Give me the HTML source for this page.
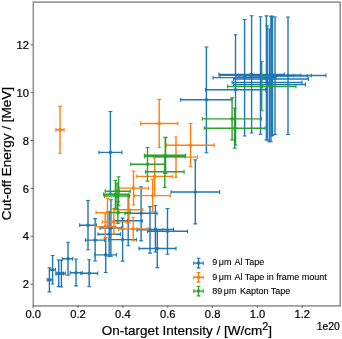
<!DOCTYPE html>
<html><head><meta charset="utf-8"><style>
html,body{margin:0;padding:0;background:#fff;}
svg{display:block;}
text{font-family:"Liberation Sans",sans-serif;fill:#000;stroke:#000;stroke-width:0.2px;}
svg{will-change:transform;}
.tk{font-size:11.2px;}
.lb{font-size:13.5px;}
.lg{font-size:9px;stroke-width:0.1px;}
</style></head><body>
<svg width="342" height="339" viewBox="0 0 342 339">
<rect width="342" height="339" fill="#fff"/>
<path d="M47.2 279.9H52.2M49.4 267.8V291.9" stroke="#1f77b4" stroke-width="1.4" fill="none"/><path d="M47.2 278V281.8M52.2 278V281.8M47.5 267.8H51.3M47.5 291.9H51.3" stroke="#1f77b4" stroke-width="1.1" fill="none"/><circle cx="49.4" cy="279.9" r="1.8" fill="#1f77b4"/><path d="M49.8 269.7H55.5M52.6 255.5V284" stroke="#1f77b4" stroke-width="1.4" fill="none"/><path d="M49.8 267.8V271.6M55.5 267.8V271.6M50.7 255.5H54.5M50.7 284H54.5" stroke="#1f77b4" stroke-width="1.1" fill="none"/><circle cx="52.6" cy="269.7" r="1.8" fill="#1f77b4"/><path d="M55.8 273.5H63.5M58.7 260V286.6" stroke="#1f77b4" stroke-width="1.4" fill="none"/><path d="M55.8 271.6V275.4M63.5 271.6V275.4M56.8 260H60.6M56.8 286.6H60.6" stroke="#1f77b4" stroke-width="1.1" fill="none"/><circle cx="58.7" cy="273.5" r="1.8" fill="#1f77b4"/><path d="M57 273.5H65.3M61.4 260V287" stroke="#1f77b4" stroke-width="1.4" fill="none"/><path d="M57 271.6V275.4M65.3 271.6V275.4M59.5 260H63.3M59.5 287H63.3" stroke="#1f77b4" stroke-width="1.1" fill="none"/><circle cx="61.4" cy="273.5" r="1.8" fill="#1f77b4"/><path d="M62.3 258.8H72.7M68 242.2V275.3" stroke="#1f77b4" stroke-width="1.4" fill="none"/><path d="M62.3 256.9V260.7M72.7 256.9V260.7M66.1 242.2H69.9M66.1 275.3H69.9" stroke="#1f77b4" stroke-width="1.1" fill="none"/><circle cx="68" cy="258.8" r="1.8" fill="#1f77b4"/><path d="M70.2 272.8H82.3M76 259V285.9" stroke="#1f77b4" stroke-width="1.4" fill="none"/><path d="M70.2 270.9V274.7M82.3 270.9V274.7M74.1 259H77.9M74.1 285.9H77.9" stroke="#1f77b4" stroke-width="1.1" fill="none"/><circle cx="76" cy="272.8" r="1.8" fill="#1f77b4"/><path d="M80.8 273.3H97.7M89.2 259.7V286.8" stroke="#1f77b4" stroke-width="1.4" fill="none"/><path d="M80.8 271.4V275.2M97.7 271.4V275.2M87.3 259.7H91.1M87.3 286.8H91.1" stroke="#1f77b4" stroke-width="1.1" fill="none"/><circle cx="89.2" cy="273.3" r="1.8" fill="#1f77b4"/><path d="M79.7 225.2H96.4M88 200.5V249.7" stroke="#1f77b4" stroke-width="1.4" fill="none"/><path d="M79.7 223.3V227.1M96.4 223.3V227.1M86.1 200.5H89.9M86.1 249.7H89.9" stroke="#1f77b4" stroke-width="1.1" fill="none"/><circle cx="88" cy="225.2" r="1.8" fill="#1f77b4"/><path d="M85.5 240.1H104.7M95.1 218.6V261" stroke="#1f77b4" stroke-width="1.4" fill="none"/><path d="M85.5 238.2V242M104.7 238.2V242M93.2 218.6H97M93.2 261H97" stroke="#1f77b4" stroke-width="1.1" fill="none"/><circle cx="95.1" cy="240.1" r="1.8" fill="#1f77b4"/><path d="M94.8 254.9H116.6M105.7 237.7V272.5" stroke="#1f77b4" stroke-width="1.4" fill="none"/><path d="M94.8 253V256.8M116.6 253V256.8M103.8 237.7H107.6M103.8 272.5H107.6" stroke="#1f77b4" stroke-width="1.1" fill="none"/><circle cx="105.7" cy="254.9" r="1.8" fill="#1f77b4"/><path d="M98 234.2H120.4M109.2 212V256.4" stroke="#1f77b4" stroke-width="1.4" fill="none"/><path d="M98 232.3V236.1M120.4 232.3V236.1M107.3 212H111.1M107.3 256.4H111.1" stroke="#1f77b4" stroke-width="1.1" fill="none"/><circle cx="109.2" cy="234.2" r="1.8" fill="#1f77b4"/><path d="M100 228H122M110.9 199.7V256.3" stroke="#1f77b4" stroke-width="1.4" fill="none"/><path d="M100 226.1V229.9M122 226.1V229.9M109 199.7H112.8M109 256.3H112.8" stroke="#1f77b4" stroke-width="1.1" fill="none"/><circle cx="110.9" cy="228" r="1.8" fill="#1f77b4"/><path d="M98.9 152.4H121.9M110.4 111.5V193.3" stroke="#1f77b4" stroke-width="1.4" fill="none"/><path d="M98.9 150.5V154.3M121.9 150.5V154.3M108.5 111.5H112.3M108.5 193.3H112.3" stroke="#1f77b4" stroke-width="1.1" fill="none"/><circle cx="110.4" cy="152.4" r="1.8" fill="#1f77b4"/><path d="M108.8 239.6H136.4M122.6 218.1V261.1" stroke="#1f77b4" stroke-width="1.4" fill="none"/><path d="M108.8 237.7V241.5M136.4 237.7V241.5M120.7 218.1H124.5M120.7 261.1H124.5" stroke="#1f77b4" stroke-width="1.1" fill="none"/><circle cx="122.6" cy="239.6" r="1.8" fill="#1f77b4"/><path d="M114.2 220.8H142.2M128.2 196V245.7" stroke="#1f77b4" stroke-width="1.4" fill="none"/><path d="M114.2 218.9V222.7M142.2 218.9V222.7M126.3 196H130.1M126.3 245.7H130.1" stroke="#1f77b4" stroke-width="1.1" fill="none"/><circle cx="128.2" cy="220.8" r="1.8" fill="#1f77b4"/><path d="M125 213.3H157.1M141.1 186.7V240.9" stroke="#1f77b4" stroke-width="1.4" fill="none"/><path d="M125 211.4V215.2M157.1 211.4V215.2M139.2 186.7H143M139.2 240.9H143" stroke="#1f77b4" stroke-width="1.1" fill="none"/><circle cx="141.1" cy="213.3" r="1.8" fill="#1f77b4"/><path d="M137 229.8H163M150 206.6V253.1" stroke="#1f77b4" stroke-width="1.4" fill="none"/><path d="M137 227.9V231.7M163 227.9V231.7M148.1 206.6H151.9M148.1 253.1H151.9" stroke="#1f77b4" stroke-width="1.1" fill="none"/><circle cx="150" cy="229.8" r="1.8" fill="#1f77b4"/><path d="M137.2 229.4H173.6M155.4 205.5V252" stroke="#1f77b4" stroke-width="1.4" fill="none"/><path d="M137.2 227.5V231.3M173.6 227.5V231.3M153.5 205.5H157.3M153.5 252H157.3" stroke="#1f77b4" stroke-width="1.1" fill="none"/><circle cx="155.4" cy="229.4" r="1.8" fill="#1f77b4"/><path d="M147.5 231.3H187.5M167.5 208.5V254.2" stroke="#1f77b4" stroke-width="1.4" fill="none"/><path d="M147.5 229.4V233.2M187.5 229.4V233.2M165.6 208.5H169.4M165.6 254.2H169.4" stroke="#1f77b4" stroke-width="1.1" fill="none"/><circle cx="167.5" cy="231.3" r="1.8" fill="#1f77b4"/><path d="M139 248.5H176M157.3 229.4V267.6" stroke="#1f77b4" stroke-width="1.4" fill="none"/><path d="M139 246.6V250.4M176 246.6V250.4M155.4 229.4H159.2M155.4 267.6H159.2" stroke="#1f77b4" stroke-width="1.1" fill="none"/><circle cx="157.3" cy="248.5" r="1.8" fill="#1f77b4"/><path d="M171.1 192H219.6M195.3 159.9V223.9" stroke="#1f77b4" stroke-width="1.4" fill="none"/><path d="M171.1 190.1V193.9M219.6 190.1V193.9M193.4 159.9H197.2M193.4 223.9H197.2" stroke="#1f77b4" stroke-width="1.1" fill="none"/><circle cx="195.3" cy="192" r="1.8" fill="#1f77b4"/><path d="M180.6 99.8H232M206.4 47V152.8" stroke="#1f77b4" stroke-width="1.4" fill="none"/><path d="M180.6 97.9V101.7M232 97.9V101.7M204.5 47H208.3M204.5 152.8H208.3" stroke="#1f77b4" stroke-width="1.1" fill="none"/><circle cx="206.4" cy="99.8" r="1.8" fill="#1f77b4"/><path d="M205.5 89.8H265.5M235.5 34.7V145" stroke="#1f77b4" stroke-width="1.4" fill="none"/><path d="M205.5 87.9V91.7M265.5 87.9V91.7M233.6 34.7H237.4M233.6 145H237.4" stroke="#1f77b4" stroke-width="1.1" fill="none"/><circle cx="235.5" cy="89.8" r="1.8" fill="#1f77b4"/><path d="M213.1 77.6H276.1M244.6 19.5V136" stroke="#1f77b4" stroke-width="1.4" fill="none"/><path d="M213.1 75.7V79.5M276.1 75.7V79.5M242.7 19.5H246.5M242.7 136H246.5" stroke="#1f77b4" stroke-width="1.1" fill="none"/><circle cx="244.6" cy="77.6" r="1.8" fill="#1f77b4"/><path d="M218.9 74.5H284.4M251.6 15.7V133" stroke="#1f77b4" stroke-width="1.4" fill="none"/><path d="M218.9 72.6V76.4M284.4 72.6V76.4M249.7 15.7H253.5M249.7 133H253.5" stroke="#1f77b4" stroke-width="1.1" fill="none"/><circle cx="251.6" cy="74.5" r="1.8" fill="#1f77b4"/><path d="M220 75.3H300.8M260.5 16.7V134.2" stroke="#1f77b4" stroke-width="1.4" fill="none"/><path d="M220 73.4V77.2M300.8 73.4V77.2M258.6 16.7H262.4M258.6 134.2H262.4" stroke="#1f77b4" stroke-width="1.1" fill="none"/><circle cx="260.5" cy="75.3" r="1.8" fill="#1f77b4"/><path d="M262 78.9H271M266.4 15.9V140" stroke="#1f77b4" stroke-width="1.4" fill="none"/><path d="M262 77V80.8M271 77V80.8M264.5 15.9H268.3M264.5 140H268.3" stroke="#1f77b4" stroke-width="1.1" fill="none"/><circle cx="266.4" cy="78.9" r="1.8" fill="#1f77b4"/><path d="M233.6 79H308.4M271 16.2V141.8" stroke="#1f77b4" stroke-width="1.4" fill="none"/><path d="M233.6 77.1V80.9M308.4 77.1V80.9M269.1 16.2H272.9M269.1 141.8H272.9" stroke="#1f77b4" stroke-width="1.1" fill="none"/><circle cx="271" cy="79" r="1.8" fill="#1f77b4"/><path d="M232.1 82.4H302M267.2 25.8V140" stroke="#1f77b4" stroke-width="1.4" fill="none"/><path d="M232.1 80.5V84.3M302 80.5V84.3M265.3 25.8H269.1M265.3 140H269.1" stroke="#1f77b4" stroke-width="1.1" fill="none"/><circle cx="267.2" cy="82.4" r="1.8" fill="#1f77b4"/><path d="M233.5 84.5H305.5M269.3 29V141.6" stroke="#1f77b4" stroke-width="1.4" fill="none"/><path d="M233.5 82.6V86.4M305.5 82.6V86.4M267.4 29H271.2M267.4 141.6H271.2" stroke="#1f77b4" stroke-width="1.1" fill="none"/><circle cx="269.3" cy="84.5" r="1.8" fill="#1f77b4"/><path d="M251.2 75.7H293.8M272.5 16.2V135.5" stroke="#1f77b4" stroke-width="1.4" fill="none"/><path d="M251.2 73.8V77.6M293.8 73.8V77.6M270.6 16.2H274.4M270.6 135.5H274.4" stroke="#1f77b4" stroke-width="1.1" fill="none"/><circle cx="272.5" cy="75.7" r="1.8" fill="#1f77b4"/><path d="M235.8 75.8H307.2M271.2 16.2V136" stroke="#1f77b4" stroke-width="1.4" fill="none"/><path d="M235.8 73.9V77.7M307.2 73.9V77.7M269.3 16.2H273.1M269.3 136H273.1" stroke="#1f77b4" stroke-width="1.1" fill="none"/><circle cx="271.2" cy="75.8" r="1.8" fill="#1f77b4"/><path d="M238.7 75.6H311.3M275 17V134.5" stroke="#1f77b4" stroke-width="1.4" fill="none"/><path d="M238.7 73.7V77.5M311.3 73.7V77.5M273.1 17H276.9M273.1 134.5H276.9" stroke="#1f77b4" stroke-width="1.1" fill="none"/><circle cx="275" cy="75.6" r="1.8" fill="#1f77b4"/><path d="M250.1 75.5H325.9M288 17V134.5" stroke="#1f77b4" stroke-width="1.4" fill="none"/><path d="M250.1 73.6V77.4M325.9 73.6V77.4M286.1 17H289.9M286.1 134.5H289.9" stroke="#1f77b4" stroke-width="1.1" fill="none"/><circle cx="288" cy="75.5" r="1.8" fill="#1f77b4"/><path d="M55.9 129.8H64.1M60 106.2V153.2" stroke="#ff7f0e" stroke-width="1.4" fill="none"/><path d="M55.9 127.9V131.7M64.1 127.9V131.7M58.1 106.2H61.9M58.1 153.2H61.9" stroke="#ff7f0e" stroke-width="1.1" fill="none"/><circle cx="60" cy="129.8" r="1.8" fill="#ff7f0e"/><path d="M118.9 188.1H148.3M133.5 171V205" stroke="#ff7f0e" stroke-width="1.4" fill="none"/><path d="M118.9 186.2V190M148.3 186.2V190M131.6 171H135.4M131.6 205H135.4" stroke="#ff7f0e" stroke-width="1.1" fill="none"/><circle cx="133.5" cy="188.1" r="1.8" fill="#ff7f0e"/><path d="M134.3 195.6H170.3M152.7 179.4V211.8" stroke="#ff7f0e" stroke-width="1.4" fill="none"/><path d="M134.3 193.7V197.5M170.3 193.7V197.5M150.8 179.4H154.6M150.8 211.8H154.6" stroke="#ff7f0e" stroke-width="1.1" fill="none"/><circle cx="152.7" cy="195.6" r="1.8" fill="#ff7f0e"/><path d="M136.8 176.4H172.7M154.7 157V195.8" stroke="#ff7f0e" stroke-width="1.4" fill="none"/><path d="M136.8 174.5V178.3M172.7 174.5V178.3M152.8 157H156.6M152.8 195.8H156.6" stroke="#ff7f0e" stroke-width="1.1" fill="none"/><circle cx="154.7" cy="176.4" r="1.8" fill="#ff7f0e"/><path d="M166.3 145.2H214.3M190.6 123.5V166.8" stroke="#ff7f0e" stroke-width="1.4" fill="none"/><path d="M166.3 143.3V147.1M214.3 143.3V147.1M188.7 123.5H192.5M188.7 166.8H192.5" stroke="#ff7f0e" stroke-width="1.1" fill="none"/><circle cx="190.6" cy="145.2" r="1.8" fill="#ff7f0e"/><path d="M154 157.1H197.5M176 137V177.3" stroke="#ff7f0e" stroke-width="1.4" fill="none"/><path d="M154 155.2V159M197.5 155.2V159M174.1 137H177.9M174.1 177.3H177.9" stroke="#ff7f0e" stroke-width="1.1" fill="none"/><circle cx="176" cy="157.1" r="1.8" fill="#ff7f0e"/><path d="M140.5 123.5H178M159.2 99.4V147.5" stroke="#ff7f0e" stroke-width="1.4" fill="none"/><path d="M140.5 121.6V125.4M178 121.6V125.4M157.3 99.4H161.1M157.3 147.5H161.1" stroke="#ff7f0e" stroke-width="1.1" fill="none"/><circle cx="159.2" cy="123.5" r="1.8" fill="#ff7f0e"/><path d="M118.5 229H148M133.2 217.3V240.8" stroke="#ff7f0e" stroke-width="1.4" fill="none"/><path d="M118.5 227.1V230.9M148 227.1V230.9M131.3 217.3H135.1M131.3 240.8H135.1" stroke="#ff7f0e" stroke-width="1.1" fill="none"/><circle cx="133.2" cy="229" r="1.8" fill="#ff7f0e"/><path d="M96 212.6H119M107.5 198.4V226.8" stroke="#ff7f0e" stroke-width="1.4" fill="none"/><path d="M96 210.7V214.5M119 210.7V214.5M105.6 198.4H109.4M105.6 226.8H109.4" stroke="#ff7f0e" stroke-width="1.1" fill="none"/><circle cx="107.5" cy="212.6" r="1.8" fill="#ff7f0e"/><path d="M102.2 221.9H126.3M113.9 208.9V234.2" stroke="#ff7f0e" stroke-width="1.4" fill="none"/><path d="M102.2 220V223.8M126.3 220V223.8M112 208.9H115.8M112 234.2H115.8" stroke="#ff7f0e" stroke-width="1.1" fill="none"/><circle cx="113.9" cy="221.9" r="1.8" fill="#ff7f0e"/><path d="M114.2 209.8H142.8M128.9 195.8V223" stroke="#ff7f0e" stroke-width="1.4" fill="none"/><path d="M114.2 207.9V211.7M142.8 207.9V211.7M127 195.8H130.8M127 223H130.8" stroke="#ff7f0e" stroke-width="1.1" fill="none"/><circle cx="128.9" cy="209.8" r="1.8" fill="#ff7f0e"/><path d="M95 226.6H115.7M105.2 214V238.5" stroke="#ff7f0e" stroke-width="1.4" fill="none"/><path d="M95 224.7V228.5M115.7 224.7V228.5M103.3 214H107.1M103.3 238.5H107.1" stroke="#ff7f0e" stroke-width="1.1" fill="none"/><circle cx="105.2" cy="226.6" r="1.8" fill="#ff7f0e"/><path d="M103.6 194.3H128.9M115.4 180.5V208.2" stroke="#2ca02c" stroke-width="1.4" fill="none"/><path d="M103.6 192.4V196.2M128.9 192.4V196.2M113.5 180.5H117.3M113.5 208.2H117.3" stroke="#2ca02c" stroke-width="1.1" fill="none"/><circle cx="115.4" cy="194.3" r="1.8" fill="#2ca02c"/><path d="M104.5 196H129.5M117 183V209" stroke="#2ca02c" stroke-width="1.4" fill="none"/><path d="M104.5 194.1V197.9M129.5 194.1V197.9M115.1 183H118.9M115.1 209H118.9" stroke="#2ca02c" stroke-width="1.1" fill="none"/><circle cx="117" cy="196" r="1.8" fill="#2ca02c"/><path d="M105.2 191.2H130.2M118.6 176.8V205.5" stroke="#2ca02c" stroke-width="1.4" fill="none"/><path d="M105.2 189.3V193.1M130.2 189.3V193.1M116.7 176.8H120.5M116.7 205.5H120.5" stroke="#2ca02c" stroke-width="1.1" fill="none"/><circle cx="118.6" cy="191.2" r="1.8" fill="#2ca02c"/><path d="M109.7 212.6H130.4M117.9 201.5V223.5" stroke="#2ca02c" stroke-width="1.4" fill="none"/><path d="M109.7 210.7V214.5M130.4 210.7V214.5M116 201.5H119.8M116 223.5H119.8" stroke="#2ca02c" stroke-width="1.1" fill="none"/><circle cx="117.9" cy="212.6" r="1.8" fill="#2ca02c"/><path d="M130.7 164.3H164.3M147.5 147.5V181.1" stroke="#2ca02c" stroke-width="1.4" fill="none"/><path d="M130.7 162.4V166.2M164.3 162.4V166.2M145.6 147.5H149.4M145.6 181.1H149.4" stroke="#2ca02c" stroke-width="1.1" fill="none"/><circle cx="147.5" cy="164.3" r="1.8" fill="#2ca02c"/><path d="M145.5 171.8H184.1M164.8 156.5V187.4" stroke="#2ca02c" stroke-width="1.4" fill="none"/><path d="M145.5 169.9V173.7M184.1 169.9V173.7M162.9 156.5H166.7M162.9 187.4H166.7" stroke="#2ca02c" stroke-width="1.1" fill="none"/><circle cx="164.8" cy="171.8" r="1.8" fill="#2ca02c"/><path d="M144.4 155.3H185.6M165.3 137.3V173.3" stroke="#2ca02c" stroke-width="1.4" fill="none"/><path d="M144.4 153.4V157.2M185.6 153.4V157.2M163.4 137.3H167.2M163.4 173.3H167.2" stroke="#2ca02c" stroke-width="1.1" fill="none"/><circle cx="165.3" cy="155.3" r="1.8" fill="#2ca02c"/><path d="M144.8 156.6H185.2M165.6 137.5V173.5" stroke="#2ca02c" stroke-width="1.4" fill="none"/><path d="M144.8 154.7V158.5M185.2 154.7V158.5M163.7 137.5H167.5M163.7 173.5H167.5" stroke="#2ca02c" stroke-width="1.1" fill="none"/><circle cx="165.6" cy="156.6" r="1.8" fill="#2ca02c"/><path d="M202.3 118.9H261.4M232.1 97.9V139.9" stroke="#2ca02c" stroke-width="1.4" fill="none"/><path d="M202.3 117V120.8M261.4 117V120.8M230.2 97.9H234M230.2 139.9H234" stroke="#2ca02c" stroke-width="1.1" fill="none"/><circle cx="232.1" cy="118.9" r="1.8" fill="#2ca02c"/><path d="M204.3 128.2H265.1M234.7 108.3V148.1" stroke="#2ca02c" stroke-width="1.4" fill="none"/><path d="M204.3 126.3V130.1M265.1 126.3V130.1M232.8 108.3H236.6M232.8 148.1H236.6" stroke="#2ca02c" stroke-width="1.1" fill="none"/><circle cx="234.7" cy="128.2" r="1.8" fill="#2ca02c"/><path d="M227.5 86.5H296M261.7 61.5V110.7" stroke="#2ca02c" stroke-width="1.4" fill="none"/><path d="M227.5 84.6V88.4M296 84.6V88.4M259.8 61.5H263.6M259.8 110.7H263.6" stroke="#2ca02c" stroke-width="1.1" fill="none"/><circle cx="261.7" cy="86.5" r="1.8" fill="#2ca02c"/>
<rect x="33.3" y="2.1" width="306.9" height="303.8" fill="none" stroke="#8c8c8c" stroke-width="1.5"/><path d="M33.20 305.5V308" stroke="#666" stroke-width="1"/><text x="33.20" y="318.2" text-anchor="middle" class="tk">0.0</text><path d="M78.05 305.5V308" stroke="#666" stroke-width="1"/><text x="78.05" y="318.2" text-anchor="middle" class="tk">0.2</text><path d="M122.90 305.5V308" stroke="#666" stroke-width="1"/><text x="122.90" y="318.2" text-anchor="middle" class="tk">0.4</text><path d="M167.75 305.5V308" stroke="#666" stroke-width="1"/><text x="167.75" y="318.2" text-anchor="middle" class="tk">0.6</text><path d="M212.60 305.5V308" stroke="#666" stroke-width="1"/><text x="212.60" y="318.2" text-anchor="middle" class="tk">0.8</text><path d="M257.45 305.5V308" stroke="#666" stroke-width="1"/><text x="257.45" y="318.2" text-anchor="middle" class="tk">1.0</text><path d="M302.30 305.5V308" stroke="#666" stroke-width="1"/><text x="302.30" y="318.2" text-anchor="middle" class="tk">1.2</text><path d="M30.5 284.20H33" stroke="#666" stroke-width="1"/><text x="29" y="288.30" text-anchor="end" class="tk">2</text><path d="M30.5 236.30H33" stroke="#666" stroke-width="1"/><text x="29" y="240.40" text-anchor="end" class="tk">4</text><path d="M30.5 188.40H33" stroke="#666" stroke-width="1"/><text x="29" y="192.50" text-anchor="end" class="tk">6</text><path d="M30.5 140.50H33" stroke="#666" stroke-width="1"/><text x="29" y="144.60" text-anchor="end" class="tk">8</text><path d="M30.5 92.60H33" stroke="#666" stroke-width="1"/><text x="29" y="96.70" text-anchor="end" class="tk">10</text><path d="M30.5 44.70H33" stroke="#666" stroke-width="1"/><text x="29" y="48.80" text-anchor="end" class="tk">12</text>
<text x="186.8" y="334.5" text-anchor="middle" class="lb">On-target Intensity / [W/cm<tspan font-size="10.8px" dy="-4.6">2</tspan><tspan dy="4.6">]</tspan></text>
<text transform="translate(11.2 153.7) rotate(-90)" text-anchor="middle" class="lb">Cut-off Energy / [MeV]</text>
<text x="339.8" y="329.7" text-anchor="end" class="tk" style="font-size:10.4px">1e20</text>
<g>
<path d="M193.8 263.1H203.2M198.5 258.3V267.9" stroke="#1f77b4" stroke-width="1.4" fill="none"/><path d="M193.8 261.2V265M203.2 261.2V265M196.6 258.3H200.4M196.6 267.9H200.4" stroke="#1f77b4" stroke-width="1.1" fill="none"/><circle cx="198.5" cy="263.1" r="1.8" fill="#1f77b4"/>
<path d="M193.8 277.3H203.2M198.5 272.5V282.1" stroke="#ff7f0e" stroke-width="1.4" fill="none"/><path d="M193.8 275.4V279.2M203.2 275.4V279.2M196.6 272.5H200.4M196.6 282.1H200.4" stroke="#ff7f0e" stroke-width="1.1" fill="none"/><circle cx="198.5" cy="277.3" r="1.8" fill="#ff7f0e"/>
<path d="M193.8 291.1H203.2M198.5 286.3V295.9" stroke="#2ca02c" stroke-width="1.4" fill="none"/><path d="M193.8 289.2V293M203.2 289.2V293M196.6 286.3H200.4M196.6 295.9H200.4" stroke="#2ca02c" stroke-width="1.1" fill="none"/><circle cx="198.5" cy="291.1" r="1.8" fill="#2ca02c"/>
<text x="212.2" y="265.1" class="lg">9 <tspan dx="-0.9">μm</tspan><tspan dx="0.9"> Al Tape</tspan></text>
<text x="212.2" y="279.7" class="lg">9 <tspan dx="-0.9">μm</tspan><tspan dx="0.9"> Al Tape in frame mount</tspan></text>
<text x="212.2" y="294.1" class="lg">89 <tspan dx="-0.9">μm</tspan><tspan dx="0.9"> Kapton Tape</tspan></text>
</g>
</svg>
</body></html>
